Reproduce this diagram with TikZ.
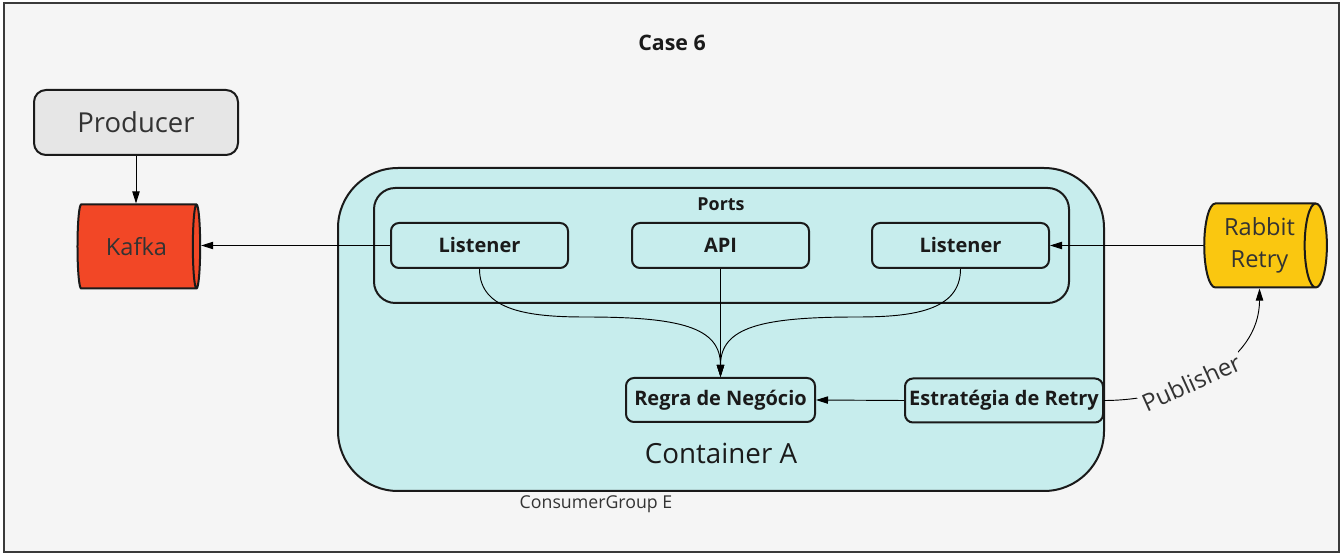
\documentclass[tikz,border=0pt]{standalone}
\usepackage{fontspec}
\setmainfont{Open Sans}
\usetikzlibrary{arrows.meta,positioning,shapes.geometric}

\definecolor{pagebg}{HTML}{F5F5F5}
\definecolor{framegray}{HTML}{3A3A3A}
\definecolor{inkdark}{HTML}{1A1A1A}
\definecolor{textgray}{HTML}{333333}
\definecolor{cyanfill}{HTML}{C7EDED}
\definecolor{producerfill}{HTML}{E6E6E6}
\definecolor{kafkared}{HTML}{F24726}
\definecolor{rabbityellow}{HTML}{FAC710}

\tikzset{
  portbox/.style={draw=inkdark,line width=1.5pt,rounded corners=6pt,fill=cyanfill,
    minimum width=132.75pt,minimum height=33.75pt,inner sep=0pt,
    font=\fontsize{15}{18}\selectfont\bfseries,text=inkdark},
  queue/.style={cylinder,draw=inkdark,line width=1.5pt,shape aspect=0.4,
    minimum width=63pt,minimum height=92pt,inner sep=0pt,
    font=\fontsize{17.7}{24}\selectfont,text=textgray,align=center},
  conn/.style={draw=black,line width=0.7pt,-{Triangle[length=9pt,width=5.5pt]}}
}

\begin{document}
\begin{tikzpicture}[x=0.75pt,y=-0.75pt]
  \fill[white] (0,0) rectangle (1342,555);
  \useasboundingbox (0,0) rectangle (1342,555);
  \draw[framegray,line width=2pt,fill=pagebg] (4,3) rectangle (1339,552);

  \node[font=\fontsize{16}{19}\selectfont\bfseries,text=inkdark] (title) at (672,43) {Case 6};

  \node[draw=inkdark,line width=1.5pt,rounded corners=9pt,fill=producerfill,
    minimum width=153pt,minimum height=48.75pt,
    font=\fontsize{20.6}{24}\selectfont,text=textgray] (producer) at (136,122.5) {Producer};
  \node[queue,fill=kafkared] (kafka) at (136.5,246.5) {Kafka};
  \node[queue,fill=rabbityellow] (rabbit) at (1259.5,245.5) {Rabbit\\Retry};

  % container and ports
  \node[draw=inkdark,line width=1.5pt,rounded corners=45pt,fill=cyanfill,
    minimum width=574.5pt,minimum height=242.25pt] (container) at (721,329.5) {};
  \node[draw=inkdark,line width=1.5pt,rounded corners=16pt,fill=cyanfill,
    minimum width=521.25pt,minimum height=86.25pt] (ports) at (721.5,245.5) {};
  \node[font=\fontsize{13.4}{16}\selectfont\bfseries,text=inkdark] (portslbl) at (721,204) {Ports};

  \node[portbox] (lisL) at (479.5,245.5) {Listener};
  \node[portbox] (api) at (720.5,245.5) {API};
  \node[portbox] (lisR) at (960.5,245.5) {Listener};
  \node[portbox,minimum width=141.75pt,minimum height=33pt] (regra) at (720.5,400) {Regra de Negócio};
  \node[portbox,minimum width=148.5pt,minimum height=33pt] (estr) at (1004,400.5) {Estratégia de Retry};

  \node[font=\fontsize{20.8}{24}\selectfont,text=inkdark] (contlbl) at (721,453) {Container A};
  \node[font=\fontsize{13.3}{16}\selectfont,text=textgray] (grouplbl) at (596,504) {ConsumerGroup E};

  % connectors
  \draw[conn] (producer.south) -- (producer.south |- kafka.north);
  \draw[conn] (lisL.west) -- (lisL.west -| kafka.east);
  \draw[conn] (rabbit.west) -- (rabbit.west -| lisR.east);
  \draw[conn] (api.south) -- (regra.north);
  \coordinate (bendL) at (585,317);
  \coordinate (bendR) at (857,317);
  \draw[conn] (lisL.south) .. controls +(0,42) and +(-55,0) .. (bendL)
    .. controls +(95,0) and +(0,-50) .. (regra.north);
  \draw[conn] (lisR.south) .. controls +(0,42) and +(55,0) .. (bendR)
    .. controls +(-95,0) and +(0,-50) .. (regra.north);
  \draw[conn] (estr.west) -- (regra.east);
  \draw[conn] (estr.east) .. controls +(75,0) and +(0,75) .. (rabbit.south)
    node[pos=0.4,sloped,fill=pagebg,inner sep=2pt,
      font=\fontsize{18}{21}\selectfont,text=textgray] (publisher) {Publisher};
\end{tikzpicture}
\end{document}
